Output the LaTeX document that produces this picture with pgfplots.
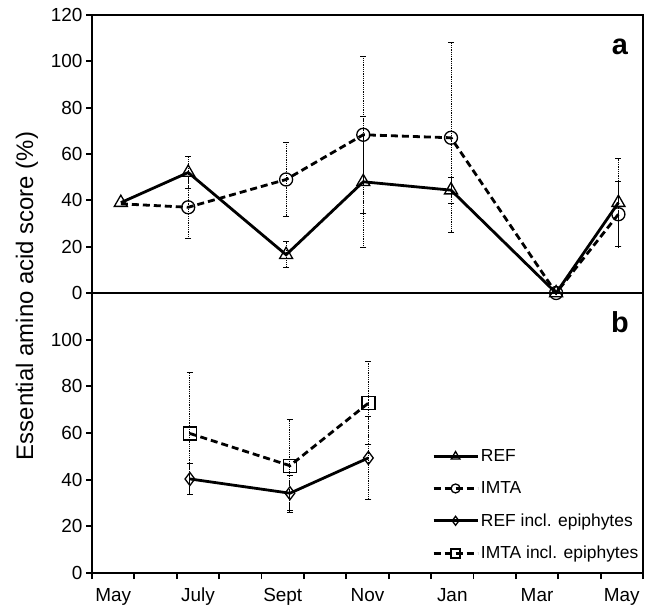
\documentclass[border=0pt]{standalone}
\usepackage{fontspec}
\setmainfont{Liberation Sans}
\usepackage{pgfplots}
\pgfplotsset{compat=1.18}
\begin{document}
\begin{tikzpicture}
\path[use as bounding box] (0bp,0bp) rectangle (653bp,607bp);
\pgfplotsset{
  common/.style={
    scale only axis, width=551bp, xmin=0, xmax=13, ymin=0, ymax=120,
    axis line style={line width=2.4bp},
    tick style={line width=1.8bp, black},
    tick align=outside, major tick length=6bp, minor tick length=6bp,
    ytick pos=left,
    tick label style={font=\fontsize{19}{20}\selectfont},
    /pgf/number format/assume math mode=true,
    clip=false,
    error bars/error mark=-,
    error bars/error bar style={line width=1bp, dash pattern=on 1bp off 0.8bp},
    error bars/error mark options={rotate=90, solid, mark size=3bp, line width=0.9bp},
  },
  refsty/.style={black, line width=2.8bp, solid, mark=triangle, mark size=7.5bp, mark options={solid, line width=1.3bp}},
  imtasty/.style={black, line width=2.8bp, dash pattern=on 7bp off 4bp, mark=o, mark size=6.5bp, mark options={solid, line width=1.3bp}},
  refesty/.style={black, line width=2.8bp, solid, mark=diamond, mark size=6.5bp, mark options={solid, line width=1.3bp}},
  imtaesty/.style={black, line width=2.8bp, dash pattern=on 7bp off 4bp, mark=square, mark size=6.5bp, mark options={solid, line width=1.3bp}},
}
% top panel (a)
\begin{axis}[common, height=278bp, anchor=south west, at={(92bp,314bp)},
  xtick=\empty, ytick={0,20,...,120}]
\addplot[imtasty, mark indices={2,3,4,5,6,7}, error bars/.cd, y dir=both, y explicit] coordinates {
  (0.68,38.5) (2.27,37) +- (0,13.5) (4.58,49) +- (0,16) (6.40,68.3) +- (0,34)
  (8.47,67) +- (0,41) (10.95,0) (12.42,34) +- (0,14)
};
\addplot[refsty, error bars/.cd, y dir=both, y explicit] coordinates {
  (0.68,39) (2.27,52) +- (0,7) (4.58,16.5) +- (0,5.6) (6.40,48) +- (0,28.4)
  (8.47,44.4) +- (0,5.6) (10.95,0) (12.42,39) +- (0,19)
};
\node[font=\bfseries\fontsize{29}{29}\selectfont] at (rel axis cs:0.958,0.885) {a};
\end{axis}
% bottom panel (b)
\begin{axis}[common, height=280bp, anchor=south west, at={(92bp,34bp)},
  ytick={0,20,...,100}, xtick pos=bottom,
  xtick={0,1,...,13}, xticklabels={},
  extra x ticks={0.5,2.5,...,12.5},
  extra x tick labels={May,July,Sept,Nov,Jan,Mar,May},
  extra x tick style={tick style={draw=none}, xticklabel style={text height=14bp, text depth=4bp, yshift=-5bp}},
  legend style={at={(rel axis cs:0.617,0.448)}, anchor=north west, draw=none, fill=none,
    font=\fontsize{17.5}{18}\selectfont, row sep=14.5bp, inner sep=0pt},
  legend cell align=left,
  legend image code/.code={\draw[mark repeat=2,mark phase=2] plot coordinates {(0bp,0bp)(22bp,0bp)(44bp,0bp)};}]
\addlegendimage{refsty, mark size=5bp}\addlegendentry{REF}
\addlegendimage{imtasty, mark size=4.5bp}\addlegendentry{IMTA}
\addlegendimage{refesty, mark size=4.5bp}\addlegendentry{REF incl. epiphytes}
\addlegendimage{imtaesty, mark size=4.5bp}\addlegendentry{IMTA incl. epiphytes}
\addplot[imtaesty, forget plot, error bars/.cd, y dir=both, y explicit] coordinates {
  (2.31,59.8) +- (0,26) (4.67,46) +- (0,20) (6.52,72.8) +- (0,17.7)
};
\addplot[refesty, forget plot, error bars/.cd, y dir=both, y explicit] coordinates {
  (2.31,40.3) +- (0,6.6) (4.67,34.2) +- (0,7.6) (6.52,49.3) +- (0,17.7)
};
\node[font=\bfseries\fontsize{29}{29}\selectfont] at (rel axis cs:0.958,0.896) {b};
\end{axis}
\node[rotate=90, font=\fontsize{24}{24}\selectfont] at (27bp,311bp) {Essential amino acid score (\%)};
\end{tikzpicture}
\end{document}
